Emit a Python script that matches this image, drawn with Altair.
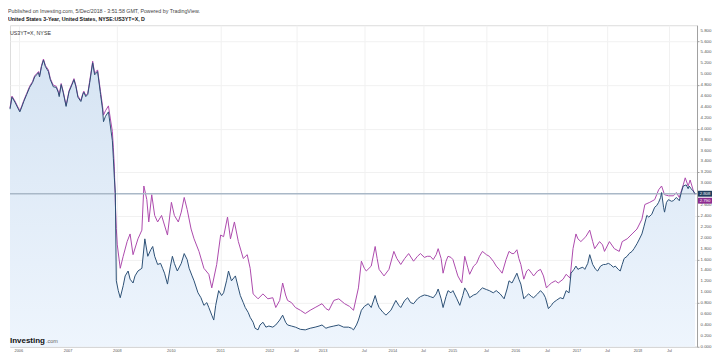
import altair as alt
import pandas as pd

# ---------------- data (bar index along TradingView's compressed time axis) ----------------
navy_bar = [0, 10, 25, 40, 50, 60, 70, 85, 100, 115,
            125, 135, 145, 150, 160, 170, 180, 195, 205, 220,
            235, 245, 250, 260, 270, 285, 295, 300, 315, 325,
            335, 345, 360, 370, 375, 385, 395, 405, 420, 430,
            445, 460, 470, 475, 485, 500, 510, 520, 525, 530,
            535, 540, 550, 560, 575, 585, 600, 610, 625, 635,
            650, 670, 685, 700, 715, 725, 735, 750, 765, 775,
            785, 800, 815, 825, 835, 850, 870, 885, 900, 910,
            925, 935, 955, 970, 985, 1000, 1010, 1025, 1035, 1045,
            1060, 1075, 1085, 1100, 1110, 1125, 1145, 1160, 1170, 1185,
            1195, 1210, 1220, 1235, 1245, 1260, 1270, 1285, 1300, 1315,
            1335, 1350, 1370, 1385, 1400, 1410, 1430, 1450, 1475, 1500,
            1525, 1550, 1570, 1585, 1605, 1620, 1645, 1670, 1695, 1720,
            1735, 1745, 1760, 1770, 1785, 1800, 1820, 1835, 1855, 1865,
            1875, 1895, 1910, 1935, 1960, 1975, 1985, 2005, 2020, 2035,
            2050, 2070, 2085, 2105, 2120, 2135, 2150, 2165, 2175, 2190,
            2200, 2215, 2225, 2240, 2250, 2270, 2285, 2300, 2310, 2325,
            2335, 2355, 2370, 2385, 2400, 2420, 2435, 2455, 2470, 2490,
            2510, 2525, 2535, 2550, 2560, 2575, 2585, 2595, 2610, 2625,
            2635, 2650, 2660, 2680, 2695, 2710, 2720, 2735, 2750, 2760,
            2775, 2795, 2810, 2825, 2840, 2850, 2865, 2875, 2885, 2895,
            2910, 2920, 2935, 2945, 2960, 2975, 2985, 3000, 3015, 3025,
            3040, 3050, 3065, 3075, 3090, 3100, 3110, 3120, 3135, 3145,
            3160, 3170, 3185, 3195, 3210, 3220, 3235, 3245, 3260, 3275,
            3285, 3295, 3305, 3310, 3320, 3325, 3335, 3345, 3360, 3370,
            3385, 3400, 3410, 3420, 3435, 3445, 3450, 3460, 3470, 3480]
navy_val = [4.36, 4.58, 4.49, 4.38, 4.31, 4.40, 4.50, 4.63, 4.76, 4.85,
            4.95, 4.99, 5.03, 4.95, 5.14, 5.26, 5.14, 5.05, 4.90, 4.77,
            4.76, 4.67, 4.59, 4.81, 4.67, 4.41, 4.59, 4.68, 4.81, 4.90,
            4.77, 4.58, 4.50, 4.63, 4.67, 4.59, 4.63, 4.85, 5.21, 4.99,
            5.05, 4.63, 4.36, 4.13, 4.23, 4.31, 4.05, 3.78, 3.46, 3.10,
            2.83, 1.21, 1.03, 0.90, 1.12, 1.30, 1.39, 1.24, 1.17, 1.30,
            1.39, 1.44, 1.98, 1.66, 1.78, 1.84, 1.66, 1.51, 1.53, 1.44,
            1.35, 1.15, 1.48, 1.66, 1.53, 1.39, 1.53, 1.71, 1.60, 1.44,
            1.30, 1.21, 0.99, 0.90, 0.76, 0.81, 0.72, 0.58, 0.49, 0.76,
            1.03, 0.94, 0.99, 1.21, 1.39, 1.21, 1.30, 1.08, 0.94, 0.81,
            0.72, 0.63, 0.54, 0.45, 0.34, 0.31, 0.40, 0.45, 0.36, 0.38,
            0.36, 0.40, 0.49, 0.58, 0.45, 0.40, 0.38, 0.36, 0.32, 0.31,
            0.34, 0.36, 0.38, 0.40, 0.34, 0.36, 0.38, 0.40, 0.36, 0.36,
            0.34, 0.31, 0.40, 0.49, 0.67, 0.74, 0.79, 0.72, 0.94, 0.81,
            0.72, 0.63, 0.58, 0.67, 0.85, 0.76, 0.72, 0.85, 0.90, 0.81,
            0.79, 0.88, 0.92, 0.95, 0.94, 0.92, 0.90, 0.97, 1.06, 0.88,
            0.72, 0.92, 1.03, 0.99, 1.03, 0.88, 0.76, 0.94, 1.08, 0.99,
            0.90, 0.95, 0.97, 1.03, 1.08, 1.05, 1.03, 0.99, 1.03, 0.97,
            0.88, 1.06, 1.21, 1.17, 1.24, 1.35, 1.24, 1.15, 0.88, 0.94,
            0.97, 0.92, 0.90, 0.97, 1.03, 0.97, 0.90, 0.70, 0.76, 0.81,
            0.85, 0.90, 0.88, 1.03, 0.99, 1.35, 1.42, 1.48, 1.42, 1.44,
            1.46, 1.42, 1.53, 1.69, 1.51, 1.42, 1.39, 1.48, 1.51, 1.51,
            1.53, 1.51, 1.46, 1.48, 1.42, 1.39, 1.51, 1.62, 1.66, 1.71,
            1.75, 1.80, 1.89, 1.96, 2.07, 2.20, 2.41, 2.38, 2.43, 2.56,
            2.59, 2.65, 2.74, 2.83, 2.56, 2.47, 2.65, 2.70, 2.67, 2.68,
            2.74, 2.68, 2.83, 2.95, 2.97, 2.90, 2.95, 2.90, 2.86, 2.808]

purple_bar = [0, 10, 25, 40, 50, 60, 70, 85, 100, 115,
              125, 135, 145, 150, 160, 170, 180, 195, 205, 220,
              235, 245, 250, 260, 270, 285, 295, 300, 315, 325,
              335, 345, 360, 370, 375, 385, 395, 405, 420, 430,
              445, 460, 470, 475, 485, 500, 510, 520, 525, 530,
              535, 540, 545, 560, 575, 595, 610, 625, 650, 670,
              680, 695, 705, 720, 735, 750, 770, 780, 800, 820,
              835, 855, 870, 885, 900, 920, 935, 960, 985, 1010,
              1025, 1050, 1070, 1085, 1105, 1120, 1140, 1160, 1185, 1205,
              1220, 1235, 1260, 1285, 1310, 1335, 1350, 1370, 1385, 1400,
              1410, 1430, 1450, 1475, 1500, 1525, 1550, 1570, 1585, 1605,
              1620, 1645, 1670, 1700, 1725, 1745, 1770, 1785, 1800, 1810,
              1835, 1855, 1865, 1875, 1900, 1925, 1950, 1965, 1985, 2005,
              2025, 2050, 2070, 2085, 2105, 2120, 2135, 2150, 2165, 2175,
              2190, 2200, 2215, 2225, 2240, 2250, 2265, 2275, 2295, 2310,
              2325, 2335, 2355, 2370, 2385, 2400, 2420, 2435, 2455, 2470,
              2485, 2500, 2520, 2535, 2550, 2560, 2575, 2585, 2595, 2610,
              2625, 2635, 2650, 2660, 2680, 2695, 2710, 2725, 2735, 2750,
              2770, 2785, 2810, 2825, 2845, 2860, 2875, 2885, 2900, 2925,
              2945, 2960, 2970, 2995, 3010, 3020, 3045, 3070, 3095, 3110,
              3135, 3160, 3185, 3210, 3225, 3250, 3275, 3295, 3310, 3325,
              3345, 3370, 3385, 3400, 3420, 3430, 3445, 3455, 3470, 3480]
purple_val = [4.38, 4.60, 4.51, 4.40, 4.33, 4.42, 4.52, 4.65, 4.78, 4.87,
              4.97, 5.01, 5.05, 4.97, 5.16, 5.28, 5.16, 5.08, 4.92, 4.80,
              4.78, 4.69, 4.62, 4.83, 4.69, 4.43, 4.61, 4.70, 4.83, 4.92,
              4.79, 4.60, 4.52, 4.65, 4.69, 4.61, 4.65, 4.88, 5.24, 5.02,
              5.08, 4.68, 4.42, 4.25, 4.33, 4.42, 4.18, 3.95, 3.65, 3.30,
              2.65, 2.17, 1.87, 1.44, 1.66, 1.93, 2.07, 1.69, 1.98, 2.14,
              2.95, 2.70, 2.29, 2.79, 2.41, 2.29, 2.41, 2.29, 2.05, 2.65,
              2.41, 2.29, 2.47, 2.74, 2.52, 2.16, 1.98, 1.75, 1.44, 1.33,
              1.08, 1.51, 2.05, 2.02, 2.38, 1.98, 2.29, 1.93, 1.62, 1.69,
              1.44, 0.97, 0.88, 0.97, 0.88, 0.90, 0.72, 0.85, 1.17, 0.95,
              0.85, 0.81, 0.72, 0.67, 0.61, 0.67, 0.72, 0.76, 0.79, 0.70,
              0.67, 0.85, 0.88, 0.79, 0.74, 0.67, 1.08, 1.57, 1.44, 1.39,
              1.48, 1.84, 1.62, 1.42, 1.30, 1.42, 1.75, 1.62, 1.51, 1.62,
              1.71, 1.57, 1.66, 1.71, 1.64, 1.66, 1.66, 1.60, 1.69, 1.80,
              1.62, 1.35, 1.57, 1.66, 1.64, 1.60, 1.42, 1.30, 1.17, 1.66,
              1.46, 1.33, 1.48, 1.53, 1.66, 1.75, 1.69, 1.66, 1.57, 1.48,
              1.42, 1.35, 1.60, 1.75, 1.71, 1.71, 1.78, 1.62, 1.51, 1.24,
              1.39, 1.42, 1.35, 1.30, 1.39, 1.42, 1.30, 1.08, 1.12, 1.17,
              1.21, 1.17, 1.24, 1.33, 1.26, 1.80, 2.07, 1.98, 1.93, 2.02,
              2.14, 1.93, 1.80, 1.93, 1.87, 1.75, 1.93, 1.80, 1.75, 1.93,
              1.98, 2.07, 2.16, 2.34, 2.61, 2.65, 2.70, 2.88, 2.95, 2.79,
              2.77, 2.77, 2.83, 2.74, 2.97, 3.10, 2.95, 3.06, 2.88, 2.790]

tick_bars = [45, 295, 545, 820, 1070, 1320, 1455, 1590, 1800, 1945,
             2100, 2250, 2420, 2570, 2730, 2880, 3035, 3190, 3350]
tick_labels = ["2006", "2007", "2008", "2010", "2011", "2012", "Jul", "2013", "Jul", "2014",
               "Jul", "2015", "Jul", "2016", "Jul", "2017", "Jul", "2018", "Jul"]
y_ticks = [0.0, 0.2, 0.4, 0.6, 0.8, 1.0, 1.2, 1.4, 1.6, 1.8, 2.0, 2.2, 2.4, 2.6, 2.8,
           3.0, 3.2, 3.4, 3.6, 3.8, 4.0, 4.2, 4.4, 4.6, 4.8, 5.0, 5.2, 5.4, 5.6, 5.8]
last_navy, last_purple = 2.808, 2.790

# ---------------- chart ----------------
W, H = 688, 322
FONT = "Liberation Sans"
NAVY = "#2c5075"
PURPLE = "#ad4aad"

navy_df = pd.DataFrame({"bar": navy_bar, "v": navy_val})
purple_df = pd.DataFrame({"bar": purple_bar, "v": purple_val})

xs = alt.Scale(domain=[0, 3490], nice=False, zero=False)
ys = alt.Scale(domain=[0, 5.9], nice=False, zero=False)

x_axis = alt.Axis(values=tick_bars, labels=False, title=None, grid=True,
                  gridColor="#f1f1f1", domainColor="#cfcfcf", ticks=False)
y_axis = alt.Axis(orient="right", values=y_ticks, labels=False, title=None, grid=True,
                  gridColor="#f1f1f1", domainColor="#a0a0a0", tickColor="#a0a0a0",
                  tickSize=2)

grad = alt.Gradient(gradient="linear",
                    stops=[alt.GradientStop(color="#d6e4f3", offset=0),
                           alt.GradientStop(color="#eef5fd", offset=1)],
                    x1=1, x2=1, y1=0, y2=1)

area = alt.Chart(navy_df).mark_area(color=grad, line=False).encode(
    x=alt.X("bar:Q", scale=xs, axis=x_axis),
    y=alt.Y("v:Q", scale=ys, axis=y_axis),
)
purple_line = alt.Chart(purple_df).mark_line(color=PURPLE, strokeWidth=1).encode(
    x=alt.X("bar:Q", scale=xs), y=alt.Y("v:Q", scale=ys))
price_rule = alt.Chart(pd.DataFrame({"v": [last_navy]})).mark_rule(
    color="#a9b8c7", strokeWidth=1.5).encode(y=alt.Y("v:Q", scale=ys))
navy_line = alt.Chart(navy_df).mark_line(color=NAVY, strokeWidth=1).encode(
    x=alt.X("bar:Q", scale=xs), y=alt.Y("v:Q", scale=ys))

# axis labels as text marks placed by the scales
ylab = alt.Chart(pd.DataFrame({"v": y_ticks})).mark_text(
    align="left", baseline="middle", fontSize=4.4, font=FONT, color="#555555").encode(
    x=alt.value(W + 3.5), y=alt.Y("v:Q", scale=ys), text=alt.Text("v:Q", format=".3f"))
xlab = alt.Chart(pd.DataFrame({"bar": tick_bars, "t": tick_labels})).mark_text(
    align="center", baseline="middle", fontSize=3.9, font=FONT, color="#555555").encode(
    x=alt.X("bar:Q", scale=xs), y=alt.value(H + 4.5), text="t:N")

# last-value badges
box_path = "M-1,-0.42H1V0.42H-1Z"
navy_box = alt.Chart(pd.DataFrame({"v": [last_navy]})).mark_point(
    shape=box_path, filled=True, size=196, opacity=1, strokeWidth=0, color="#1f3d5e").encode(
    x=alt.value(W + 8), y=alt.Y("v:Q", scale=ys))
purple_box = alt.Chart(pd.DataFrame({"v": [last_purple]})).mark_point(
    shape=box_path, filled=True, size=196, opacity=1, strokeWidth=0, color="#8e2c91",
    yOffset=6).encode(x=alt.value(W + 8), y=alt.Y("v:Q", scale=ys))
navy_txt = alt.Chart(pd.DataFrame({"v": [last_navy]})).mark_text(
    color="white", fontSize=4.3, font=FONT, align="center", baseline="middle").encode(
    x=alt.value(W + 8), y=alt.Y("v:Q", scale=ys), text=alt.Text("v:Q", format=".3f"))
purple_txt = alt.Chart(pd.DataFrame({"v": [last_purple]})).mark_text(
    color="white", fontSize=4.3, font=FONT, align="center", baseline="middle",
    yOffset=6).encode(
    x=alt.value(W + 8), y=alt.Y("v:Q", scale=ys), text=alt.Text("v:Q", format=".3f"))

legend_txt = alt.Chart(pd.DataFrame({"t": ["US3YT=X, NYSE"]})).mark_text(
    align="left", baseline="middle", fontSize=5.3, font=FONT, color="#333333").encode(
    x=alt.value(0), y=alt.value(8), text="t:N")
logo1 = alt.Chart(pd.DataFrame({"t": ["Investing"]})).mark_text(
    align="left", baseline="middle", fontSize=8, font=FONT, fontWeight="bold",
    color="#111111").encode(x=alt.value(0), y=alt.value(H - 6), text="t:N")
logo2 = alt.Chart(pd.DataFrame({"t": [".com"]})).mark_text(
    align="left", baseline="middle", fontSize=5.5, font=FONT,
    color="#666666").encode(x=alt.value(36), y=alt.value(H - 5.5), text="t:N")

chart = alt.layer(area, purple_line, price_rule, navy_line, ylab, xlab,
                  navy_box, purple_box, navy_txt, purple_txt,
                  legend_txt, logo1, logo2).properties(
    width=W, height=H, padding=0,
    title=alt.TitleParams(
        text="Published on Investing.com, 5/Dec/2018 - 3:51:58 GMT, Powered by TradingView.",
        subtitle="United States 3-Year, United States, NYSE:US3YT=X, D",
        anchor="start", fontSize=5.3, fontWeight="normal", color="#444444", font=FONT,
        subtitleFont=FONT, subtitleFontSize=5.3, subtitleFontWeight="bold",
        subtitleColor="#111111", subtitlePadding=2.5, offset=3),
).configure_view(strokeWidth=0).configure(background="white")

chart.save("out.html", embed_options={"renderer": "svg", "actions": False})
